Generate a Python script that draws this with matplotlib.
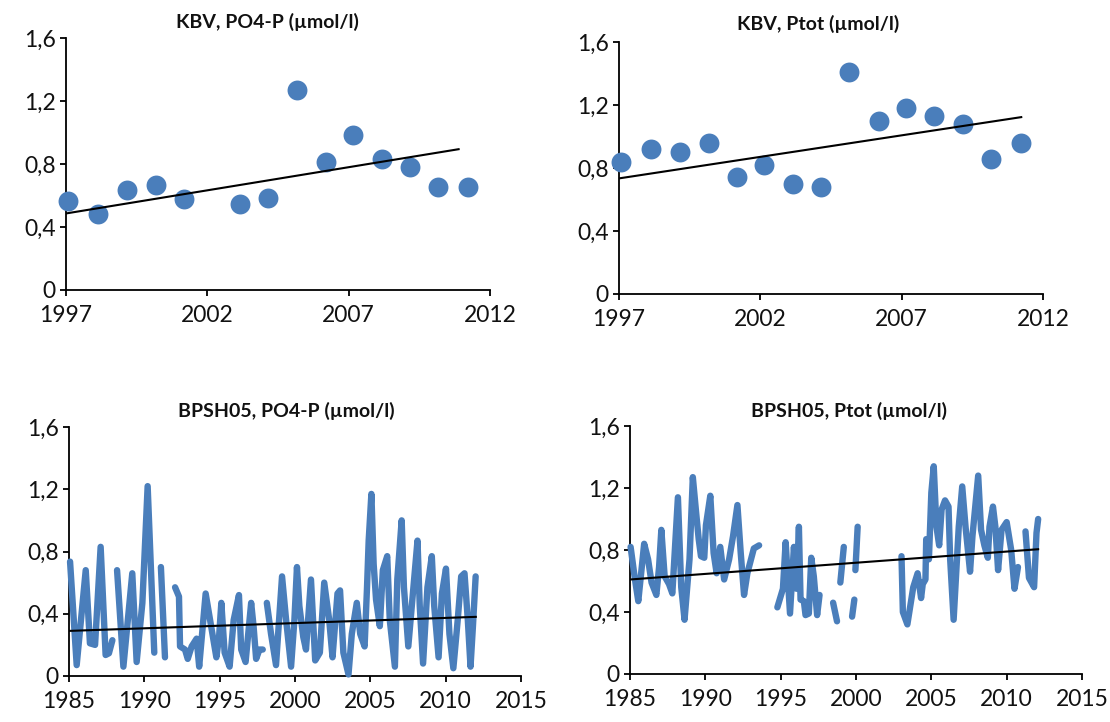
import numpy as np
import matplotlib
matplotlib.use("Agg")
import matplotlib.pyplot as plt

plt.rcParams['font.family'] = ['Lato', 'DejaVu Sans']

BLUE = '#4A7EBB'

# ---- KBV, PO4-P ----
kbv_po4_year = [1997.07, 1998.13, 1999.17, 2000.17, 2001.17, 2003.16, 2004.16, 2005.17,
                2006.19, 2007.17, 2008.18, 2009.16, 2010.17, 2011.23]
kbv_po4_val = [0.564, 0.480, 0.634, 0.664, 0.577, 0.545, 0.586, 1.272,
               0.814, 0.983, 0.833, 0.784, 0.655, 0.655]
kbv_po4_trend_x = [1997.0, 2010.89]
kbv_po4_trend_y = [0.486, 0.894]

# ---- KBV, Ptot ----
kbv_ptot_year = [1997.06, 1998.14, 1999.16, 2000.17, 2001.16, 2002.14, 2003.14, 2004.16,
                 2005.15, 2006.19, 2007.15, 2008.16, 2009.16, 2010.15, 2011.21]
kbv_ptot_val = [0.839, 0.920, 0.899, 0.960, 0.742, 0.820, 0.700, 0.681,
                1.410, 1.101, 1.180, 1.129, 1.078, 0.858, 0.960]
kbv_ptot_trend_x = [1997.0, 2011.23]
kbv_ptot_trend_y = [0.734, 1.123]

nan = float('nan')

# ---- BPSH05, PO4-P ----
bp_po4_year = [1985.07, 1985.51, 1986.11, 1986.39, 1986.73, 1987.10, 1987.43, 1987.65, 1987.88, nan,
               1988.19, 1988.61, 1989.20, 1989.49, 1989.87, 1990.22, 1990.66, nan,
               1991.10, 1991.37, nan,
               1992.04, 1992.30, 1992.37, 1992.70, 1992.88, 1993.14, 1993.47, 1993.64, 1994.07,
               1994.52, 1994.78, 1994.96, 1995.11, 1995.33, 1995.66, 1995.93, 1996.28, 1996.43,
               1996.72, 1997.09, 1997.25, 1997.42, 1997.64, 1997.86, nan,
               1998.13, 1998.41, 1998.74, 1999.14, 1999.41, 1999.74, 1999.96, 2000.13, 2000.29,
               2000.55, 2000.73, 2001.06, 2001.34, 2001.65, 2001.94, 2002.27, 2002.49, 2002.82,
               2002.99, 2003.21, 2003.55, 2003.77, 2004.10, 2004.33, 2004.62, 2004.78, 2004.89,
               2005.07, 2005.22, 2005.38, 2005.63, 2005.83, 2006.12, 2006.29, 2006.63, 2006.79,
               2007.08, 2007.23, 2007.52, 2007.86, 2008.13, 2008.28, 2008.50, 2008.79, 2009.08,
               2009.24, 2009.53, 2009.75, 2010.02, 2010.25, 2010.51, 2010.80, 2011.03, 2011.25,
               2011.47, 2011.65, 2011.81, 2011.99]
bp_po4_val = [0.735, 0.07, 0.68, 0.21, 0.20, 0.83, 0.135, 0.146, 0.23, nan,
              0.68, 0.06, 0.66, 0.09, 0.47, 1.22, 0.15, nan,
              0.70, 0.12, nan,
              0.57, 0.51, 0.19, 0.17, 0.11, 0.19, 0.24, 0.06, 0.53,
              0.27, 0.12, 0.25, 0.47, 0.15, 0.06, 0.36, 0.52, 0.17,
              0.09, 0.47, 0.32, 0.11, 0.17, 0.17, nan,
              0.47, 0.27, 0.07, 0.64, 0.36, 0.06, 0.36, 0.70, 0.45,
              0.25, 0.17, 0.62, 0.10, 0.15, 0.60, 0.36, 0.12, 0.53,
              0.55, 0.15, 0.01, 0.27, 0.47, 0.27, 0.19, 0.57, 0.87,
              1.17, 0.72, 0.49, 0.32, 0.68, 0.77, 0.36, 0.06, 0.62,
              1.00, 0.57, 0.19, 0.57, 0.87, 0.45, 0.08, 0.57, 0.77,
              0.45, 0.12, 0.53, 0.69, 0.27, 0.05, 0.36, 0.64, 0.66,
              0.36, 0.06, 0.32, 0.64]
bp_po4_trend_x = [1985.07, 2012.0]
bp_po4_trend_y = [0.29, 0.38]

# ---- BPSH05, Ptot ----
bp_ptot_year = [1985.04, 1985.33, 1985.55, 1985.94, 1986.20, 1986.43, 1986.75, 1986.93, 1987.08,
                1987.30, 1987.59, 1987.81, 1988.18, 1988.40, 1988.62, 1988.95, 1989.17, 1989.39,
                1989.56, 1989.71, 1989.93, 1990.04, 1990.33, 1990.55, 1990.75, 1990.99, 1991.25,
                1991.58, 1991.84, 1992.13, 1992.35, 1992.57, 1992.79, 1993.22, 1993.57, nan,
                1994.78, 1995.15, 1995.33, 1995.62, 1995.88, 1996.05, 1996.21, 1996.32, 1996.54,
                1996.65, 1996.87, 1997.03, 1997.20, 1997.42, 1997.58, nan,
                1998.48, 1998.74, nan, 1998.96, 1999.19, nan, 1999.74, 1999.89, nan,
                1999.96, 2000.11, nan,
                2003.02, 2003.11, 2003.41, 2003.80, 2004.09, 2004.32, 2004.43, 2004.61, 2004.66,
                2004.84, 2005.00, 2005.16, 2005.34, 2005.52, 2005.68, 2005.91, 2006.14, 2006.25,
                2006.48, 2006.82, 2007.05, 2007.27, 2007.57, 2007.73, 2008.11, 2008.30, 2008.52,
                2008.75, 2008.86, 2009.09, 2009.25, 2009.43, 2009.66, 2010.00, 2010.30, 2010.52,
                2010.75, nan, 2011.25, 2011.48, 2011.82, 2011.98, 2012.09]
bp_ptot_val = [0.82, 0.61, 0.47, 0.84, 0.74, 0.59, 0.51, 0.69, 0.93,
               0.63, 0.58, 0.52, 1.14, 0.56, 0.35, 0.74, 1.27, 1.04,
               0.87, 0.76, 0.75, 0.96, 1.15, 0.78, 0.65, 0.82, 0.61,
               0.74, 0.89, 1.09, 0.78, 0.51, 0.65, 0.81, 0.83, nan,
               0.43, 0.55, 0.85, 0.39, 0.82, 0.55, 0.95, 0.48, 0.47,
               0.38, 0.39, 0.75, 0.63, 0.38, 0.51, nan,
               0.46, 0.34, nan, 0.59, 0.82, nan, 0.37, 0.48, nan,
               0.67, 0.95, nan,
               0.76, 0.40, 0.32, 0.56, 0.65, 0.49, 0.58, 0.61, 0.87,
               0.74, 1.17, 1.34, 0.95, 0.83, 1.06, 1.12, 1.08, 0.74,
               0.35, 0.95, 1.21, 0.95, 0.66, 0.89, 1.28, 0.93, 0.83,
               0.75, 0.95, 1.08, 0.95, 0.67, 0.93, 0.98, 0.80, 0.55,
               0.69, nan, 0.92, 0.62, 0.56, 0.91, 1.00]
bp_ptot_trend_x = [1985.04, 2012.09]
bp_ptot_trend_y = [0.61, 0.805]

yticks = [0, 0.4, 0.8, 1.2, 1.6]
ytick_labels = ['0', '0,4', '0,8', '1,2', '1,6']
top_xticks = [1997, 2002, 2007, 2012]
bot_xticks = [1985, 1990, 1995, 2000, 2005, 2010, 2015]

W, H = 1110, 722
fig = plt.figure(figsize=(W / 100, H / 100), dpi=100)


def add_ax(x0, x1, ytop, ybot):
    return fig.add_axes([x0 / W, 1 - ybot / H, (x1 - x0) / W, (ybot - ytop) / H])


def style(ax, xticks, xlim):
    ax.set_xlim(*xlim)
    ax.set_ylim(0, 1.6)
    ax.set_xticks(xticks)
    ax.set_xticklabels([str(t) for t in xticks])
    ax.set_yticks(yticks)
    ax.set_yticklabels(ytick_labels)
    for s in ['top', 'right']:
        ax.spines[s].set_visible(False)
    for s in ['left', 'bottom']:
        ax.spines[s].set_linewidth(1.3)
        ax.spines[s].set_color('black')
    ax.tick_params(direction='out', length=4.5, width=1.3, labelsize=16.5, colors='black')
    ax.tick_params(axis='x', pad=6)
    ax.tick_params(axis='y', pad=3)
    ax.patch.set_alpha(0)
    for lab in ax.get_xticklabels() + ax.get_yticklabels():
        lab.set_color('#111111')


# top-left
ax1 = add_ax(66, 490, 38, 290)
ax1.scatter(kbv_po4_year, kbv_po4_val, s=205, color=BLUE, zorder=3, clip_on=False, linewidths=0)
ax1.plot(kbv_po4_trend_x, kbv_po4_trend_y, color='black', lw=1.5, zorder=4)
style(ax1, top_xticks, (1997, 2012))

# top-right
ax2 = add_ax(619, 1043, 42, 294)
ax2.scatter(kbv_ptot_year, kbv_ptot_val, s=205, color=BLUE, zorder=3, clip_on=False, linewidths=0)
ax2.plot(kbv_ptot_trend_x, kbv_ptot_trend_y, color='black', lw=1.5, zorder=4)
style(ax2, top_xticks, (1997, 2012))

# bottom-left
ax3 = add_ax(69, 521, 427, 676)
ax3.plot(bp_po4_year, bp_po4_val, color=BLUE, lw=4.6, solid_capstyle='round',
         solid_joinstyle='round', zorder=3, clip_on=False)
ax3.plot(bp_po4_trend_x, bp_po4_trend_y, color='black', lw=1.5, zorder=4)
style(ax3, bot_xticks, (1985, 2015))

# bottom-right
ax4 = add_ax(630, 1082, 426, 674)
ax4.plot(bp_ptot_year, bp_ptot_val, color=BLUE, lw=4.6, solid_capstyle='round',
         solid_joinstyle='round', zorder=3, clip_on=False)
ax4.plot(bp_ptot_trend_x, bp_ptot_trend_y, color='black', lw=1.5, zorder=4)
style(ax4, bot_xticks, (1985, 2015))

titles = [("KBV, PO4-P (µmol/l)", 267, 22),
          ("KBV, Ptot (µmol/l)", 818, 24),
          ("BPSH05, PO4-P (µmol/l)", 286, 411),
          ("BPSH05, Ptot (µmol/l)", 849, 411)]
for txt, x, y in titles:
    fig.text(x / W, 1 - y / H, txt, ha='center', va='center', fontsize=14,
             fontweight='bold', color='#111111')

fig.savefig('out.png', dpi=100)
